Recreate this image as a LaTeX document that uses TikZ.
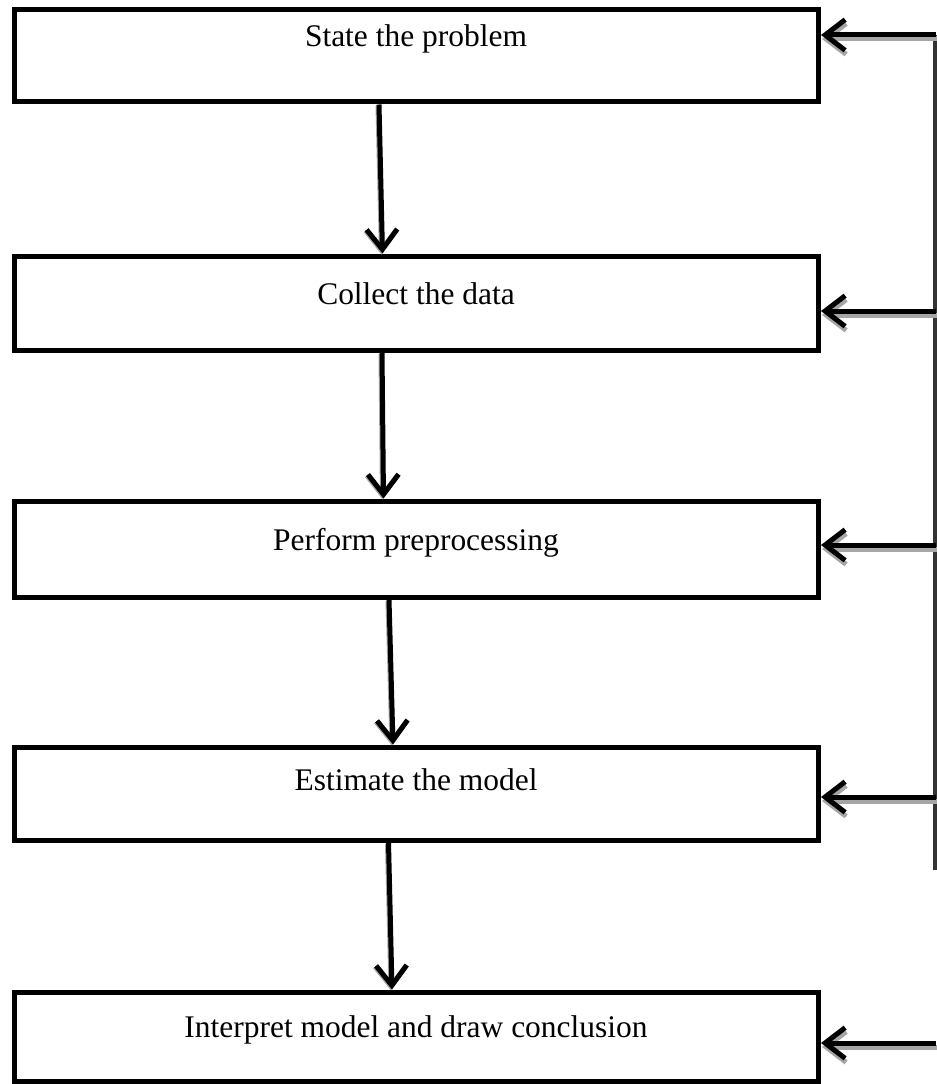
\documentclass[tikz,border=0pt]{standalone}
\usepackage{fontspec}
\setmainfont{Liberation Serif}
\usetikzlibrary{arrows.meta,calc}
\begin{document}
\begin{tikzpicture}[x=0.75pt,y=-0.75pt,
  box/.style={draw=black,line width=3.75pt,minimum width=603pt,inner sep=0pt,fill=white},
  lbl/.style={font=\fontsize{23.6}{28}\selectfont,anchor=base,inner sep=0pt},
  arr/.style={line width=3.75pt,-{Straight Barb[length=15pt,width=23pt,line width=3.75pt]}},
  shadc/.style={draw=black!35}]
\useasboundingbox (0,0) rectangle (936,1084);
% boxes
\node[box,minimum height=69pt] (b1) at (416.5,56) {};
\node[box,minimum height=70.5pt] (b2) at (416.5,303) {};
\node[box,minimum height=72pt] (b3) at (416.5,549) {};
\node[box,minimum height=69.75pt] (b4) at (416.5,793.5) {};
\node[box,minimum height=66.75pt] (b5) at (416.5,1036.5) {};
% labels
\node[lbl] (t1) at (416,47) {State the problem};
\node[lbl] (t2) at (416,304) {Collect the data};
\node[lbl] (t3) at (416,550) {Perform preprocessing};
\node[lbl] (t4) at (416,790) {Estimate the model};
\node[lbl] (t5) at (416,1037) {Interpret model and draw conclusion};
% vertical arrows (light shadow, then arrow)
\draw[arr,shadc] ($(b1.south)+(-38.5,1)$) -- ($(b2.north)+(-35,1)$);
\draw[arr] ($(b1.south)+(-37.5,0)$) -- ($(b2.north)+(-34,0)$);
\draw[arr,shadc] ($(b2.south)+(-35.5,1)$) -- ($(b3.north)+(-34,1)$);
\draw[arr] ($(b2.south)+(-34.5,0)$) -- ($(b3.north)+(-33,0)$);
\draw[arr,shadc] ($(b3.south)+(-28.5,1)$) -- ($(b4.north)+(-24.5,1)$);
\draw[arr] ($(b3.south)+(-27.5,0)$) -- ($(b4.north)+(-23.5,0)$);
\draw[arr,shadc] ($(b4.south)+(-29,1)$) -- ($(b5.north)+(-25.5,1)$);
\draw[arr] ($(b4.south)+(-28,0)$) -- ($(b5.north)+(-24.5,0)$);
% feedback line
\coordinate (r1) at (936,35);
\coordinate (r2) at (936,311);
\coordinate (r3) at (936,545);
\coordinate (r4) at (936,797);
\coordinate (r5) at (936,1043);
\coordinate (rt) at (935.5,35);
\coordinate (rb) at (935.5,870);
\draw[line width=3.75pt,draw=black!80] (rt) -- (rb);
\foreach \i in {1,...,5}{
  \draw[arr,shadc] ([shift={(1,4)}]r\i) -- ([shift={(1,4)}]r\i -| b\i.east);
  \draw[arr] (r\i) -- (r\i -| b\i.east);
}
\end{tikzpicture}
\end{document}
